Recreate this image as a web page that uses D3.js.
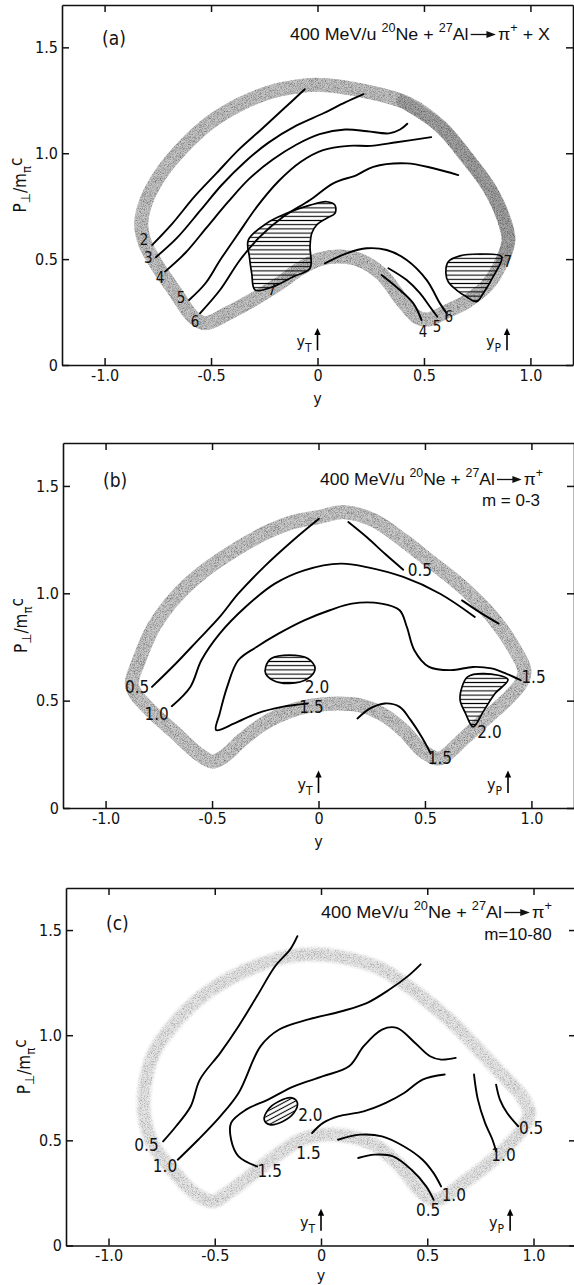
<!DOCTYPE html>
<html>
<head>
<meta charset="utf-8">
<script src="https://cdn.jsdelivr.net/npm/d3@7"></script>
<style>
  html, body { margin: 0; padding: 0; background: #fff; }
  svg { display: block; }
  .tick text { font-family: "DejaVu Sans", sans-serif; font-stretch: condensed; font-size: 16px; fill: #111; }
  .lbl { font-family: "DejaVu Sans", sans-serif; font-stretch: condensed; font-size: 16px; fill: #111; }
  .ttl { font-family: "Liberation Sans", "DejaVu Sans", sans-serif; font-size: 17px; fill: #111; }
</style>
</head>
<body>
<svg id="fig" width="574" height="1285"></svg>
<script>
// ---------------- axes ----------------
const xDomain = [-1.2, 1.2];
const yDomain = [0, 1.7];
const xTickValues = [-1.0, -0.5, 0, 0.5, 1.0];
const xTickLabels = ["-1.0", "-0.5", "0", "0.5", "1.0"];
const yTickValues = [0, 0.5, 1.0, 1.5];
const yTickLabels = ["0", "0.5", "1.0", "1.5"];
const rapidityMarks = [["T", 0.0], ["P", 0.89]];

// ---------------- titles ----------------
const titleA = ["400 MeV/u ", "^20", "Ne + ", "^27", "Al", "->", "π", "^+", " + X"];
const titleB = ["400 MeV/u ", "^20", "Ne + ", "^27", "Al", "->", "π", "^+"];
const titleC = ["400 MeV/u ", "^20", "Ne + ", "^27", "Al", "->", "π", "^+"];
const subtitleB = "m = 0-3";
const subtitleC = "m=10-80";

// ---------------- panel (a): p + X ----------------
const bandA = [
  [-0.009, 1.323], [0.233, 1.291], [0.422, 1.236], [0.578, 1.126], [0.698, 0.984],
  [0.802, 0.843], [0.871, 0.701], [0.897, 0.591], [0.870, 0.500], [0.800, 0.380],
  [0.700, 0.300], [0.600, 0.250], [0.520, 0.215], [0.470, 0.225], [0.400, 0.300],
  [0.300, 0.430], [0.200, 0.495], [0.106, 0.512], [0.012, 0.500], [-0.090, 0.450],
  [-0.176, 0.387], [-0.300, 0.310], [-0.420, 0.245], [-0.526, 0.197], [-0.586, 0.228],
  [-0.664, 0.339], [-0.750, 0.465], [-0.810, 0.575], [-0.828, 0.669], [-0.802, 0.780],
  [-0.733, 0.906], [-0.629, 1.031], [-0.509, 1.142], [-0.371, 1.228], [-0.216, 1.291],
  [-0.112, 1.312]
];
const bandDarkA = [
  [0.40, 1.245], [0.578, 1.126], [0.698, 0.984], [0.802, 0.843], [0.871, 0.701],
  [0.897, 0.591], [0.870, 0.500]
];
const linesA = [
  [[-0.776, 0.567], [-0.681, 0.669], [-0.578, 0.795], [-0.474, 0.906], [-0.371, 1.016], [-0.267, 1.110], [-0.164, 1.205], [-0.060, 1.302]],
  [[-0.759, 0.509], [-0.660, 0.600], [-0.550, 0.730], [-0.450, 0.850], [-0.340, 0.960], [-0.230, 1.050], [-0.100, 1.130], [0.030, 1.190], [0.130, 1.240], [0.216, 1.279]],
  [[-0.716, 0.441], [-0.620, 0.530], [-0.520, 0.650], [-0.420, 0.770], [-0.320, 0.880], [-0.210, 0.970], [-0.100, 1.040], [0.010, 1.090], [0.130, 1.112], [0.233, 1.104], [0.336, 1.094], [0.388, 1.112], [0.422, 1.139]],
  [[-0.603, 0.307], [-0.526, 0.386], [-0.457, 0.496], [-0.371, 0.622], [-0.284, 0.748], [-0.181, 0.870], [-0.078, 0.960], [0.026, 1.015], [0.147, 1.035], [0.250, 1.035], [0.371, 1.052], [0.534, 1.076]],
  [[-0.552, 0.244], [-0.458, 0.354], [-0.364, 0.496], [-0.270, 0.606], [-0.161, 0.700], [-0.035, 0.779], [0.074, 0.858], [0.184, 0.897], [0.262, 0.936], [0.419, 0.952], [0.544, 0.929], [0.661, 0.897]],
  [[0.035, 0.480], [0.137, 0.527], [0.231, 0.551], [0.325, 0.543], [0.419, 0.496], [0.513, 0.401], [0.575, 0.291], [0.607, 0.244]],
  [[0.333, 0.457], [0.419, 0.401], [0.481, 0.339], [0.528, 0.275], [0.563, 0.228]],
  [[0.301, 0.425], [0.387, 0.354], [0.450, 0.291], [0.489, 0.212]]
];
const hatchA = [
  [[-0.293, 0.354], [-0.309, 0.433], [-0.320, 0.511], [-0.325, 0.590], [-0.239, 0.669], [-0.145, 0.716],
   [-0.035, 0.755], [0.043, 0.771], [0.082, 0.755], [0.082, 0.716], [0.043, 0.693], [-0.004, 0.661],
   [-0.027, 0.622], [-0.035, 0.559], [-0.035, 0.457], [-0.114, 0.417], [-0.208, 0.370]],
  [[0.603, 0.433], [0.614, 0.488], [0.669, 0.515], [0.763, 0.524], [0.865, 0.511], [0.825, 0.417],
   [0.778, 0.338], [0.747, 0.299], [0.700, 0.322], [0.653, 0.354], [0.614, 0.393]]
];
const labelsA = [
  ["2", -0.815, 0.588], ["3", -0.795, 0.505], ["4", -0.739, 0.411], ["5", -0.641, 0.316], ["6", -0.575, 0.203],
  ["7", -0.214, 0.354], ["7", 0.894, 0.486], ["4", 0.496, 0.156], ["5", 0.561, 0.179], ["6", 0.617, 0.227]
];

// ---------------- panel (b): m = 0-3 ----------------
const bandB = [
  [0.000, 1.355], [0.122, 1.378], [0.260, 1.340], [0.398, 1.247], [0.519, 1.153], [0.640, 1.060],
  [0.743, 0.967], [0.829, 0.874], [0.915, 0.750], [0.967, 0.642], [0.950, 0.580], [0.881, 0.502],
  [0.812, 0.440], [0.743, 0.378], [0.674, 0.316], [0.588, 0.239], [0.553, 0.231], [0.484, 0.270],
  [0.398, 0.363], [0.295, 0.440], [0.191, 0.479], [0.088, 0.487], [-0.016, 0.479], [-0.119, 0.456],
  [-0.257, 0.394], [-0.360, 0.316], [-0.446, 0.239], [-0.498, 0.216], [-0.567, 0.254], [-0.670, 0.347],
  [-0.774, 0.440], [-0.860, 0.533], [-0.877, 0.580], [-0.843, 0.688], [-0.774, 0.843], [-0.670, 0.983],
  [-0.533, 1.107], [-0.395, 1.200], [-0.257, 1.278], [-0.119, 1.332]
];
const linesB = [
  [[-0.782, 0.564], [-0.670, 0.673], [-0.567, 0.781], [-0.464, 0.890], [-0.377, 0.998], [-0.257, 1.122], [-0.119, 1.247], [0.002, 1.347]],
  [[0.140, 1.332], [0.226, 1.262], [0.312, 1.184], [0.398, 1.110]],
  [[-0.689, 0.474], [-0.602, 0.564], [-0.550, 0.688], [-0.464, 0.812], [-0.343, 0.936], [-0.205, 1.045], [-0.067, 1.107], [0.105, 1.138], [0.226, 1.122], [0.398, 1.076], [0.571, 0.998], [0.734, 0.890]],
  [[0.674, 0.967], [0.760, 0.910], [0.846, 0.859]],
  [[-0.050, 0.487], [-0.171, 0.471], [-0.291, 0.440], [-0.395, 0.394], [-0.481, 0.363], [-0.464, 0.440], [-0.429, 0.564], [-0.377, 0.688], [-0.291, 0.750], [-0.188, 0.812], [-0.067, 0.874], [0.053, 0.921], [0.157, 0.952], [0.295, 0.952], [0.381, 0.921], [0.415, 0.843], [0.450, 0.735], [0.519, 0.657], [0.622, 0.642], [0.726, 0.657], [0.812, 0.650], [0.881, 0.626], [0.950, 0.595]],
  [[0.183, 0.417], [0.243, 0.464], [0.312, 0.487], [0.381, 0.471], [0.433, 0.409], [0.484, 0.332], [0.527, 0.254]]
];
const hatchB = [
  [[-0.248, 0.657], [-0.222, 0.696], [-0.136, 0.712], [-0.050, 0.696], [-0.016, 0.650], [-0.050, 0.603], [-0.136, 0.580], [-0.214, 0.595], [-0.248, 0.626]],
  [[0.674, 0.564], [0.700, 0.611], [0.778, 0.626], [0.890, 0.598], [0.829, 0.533], [0.778, 0.456], [0.726, 0.378], [0.691, 0.440], [0.665, 0.502]]
];
const labelsB = [
  ["0.5", -0.852, 0.564], ["1.0", -0.760, 0.440], ["0.5", 0.476, 1.110], ["2.0", -0.007, 0.564],
  ["1.5", -0.033, 0.471], ["1.5", 1.010, 0.611], ["2.0", 0.803, 0.355], ["1.5", 0.570, 0.231]
];

// ---------------- panel (c): m = 10-80 ----------------
const bandC = [
  [-0.007, 1.384], [0.149, 1.360], [0.287, 1.313], [0.409, 1.233], [0.530, 1.138], [0.651, 1.027],
  [0.755, 0.916], [0.859, 0.805], [0.945, 0.710], [0.980, 0.630], [0.945, 0.551], [0.876, 0.471],
  [0.772, 0.376], [0.668, 0.297], [0.582, 0.233], [0.530, 0.217], [0.461, 0.265], [0.374, 0.376],
  [0.253, 0.479], [0.132, 0.519], [0.010, 0.527], [-0.094, 0.503], [-0.215, 0.424], [-0.336, 0.329],
  [-0.440, 0.249], [-0.509, 0.210], [-0.596, 0.249], [-0.700, 0.360], [-0.786, 0.471], [-0.829, 0.598],
  [-0.829, 0.757], [-0.786, 0.916], [-0.700, 1.043], [-0.578, 1.170], [-0.440, 1.265], [-0.284, 1.337],
  [-0.145, 1.376]
];
const linesC = [
  [[-0.743, 0.495], [-0.682, 0.567], [-0.613, 0.662], [-0.570, 0.789], [-0.474, 0.916], [-0.388, 1.043], [-0.301, 1.186], [-0.215, 1.329], [-0.145, 1.408], [-0.111, 1.471]],
  [[-0.674, 0.408], [-0.578, 0.503], [-0.474, 0.614], [-0.388, 0.725], [-0.284, 0.948], [-0.197, 1.027], [-0.059, 1.075], [0.097, 1.114], [0.218, 1.154], [0.322, 1.217], [0.409, 1.281], [0.469, 1.337]],
  [[-0.301, 0.376], [-0.388, 0.424], [-0.423, 0.503], [-0.423, 0.583], [-0.353, 0.646], [-0.249, 0.694], [-0.128, 0.757], [0.010, 0.805], [0.132, 0.852], [0.201, 0.948], [0.287, 1.027], [0.357, 1.035], [0.443, 0.963], [0.513, 0.900], [0.565, 0.884], [0.634, 0.892]],
  [[-0.042, 0.535], [0.010, 0.583], [0.080, 0.614], [0.201, 0.638], [0.305, 0.678], [0.391, 0.725], [0.478, 0.789], [0.582, 0.813]],
  [[0.080, 0.503], [0.184, 0.527], [0.287, 0.519], [0.391, 0.471], [0.478, 0.408], [0.530, 0.344], [0.565, 0.281]],
  [[0.175, 0.416], [0.253, 0.432], [0.339, 0.424], [0.426, 0.360], [0.495, 0.281], [0.530, 0.217]],
  [[0.720, 0.813], [0.738, 0.695], [0.772, 0.583], [0.807, 0.503], [0.824, 0.448]],
  [[0.824, 0.765], [0.842, 0.694], [0.876, 0.630], [0.928, 0.567]]
];
const hatchC = [
  [[-0.267, 0.598], [-0.249, 0.646], [-0.197, 0.686], [-0.137, 0.702], [-0.111, 0.678], [-0.128, 0.630], [-0.180, 0.590], [-0.241, 0.575]]
];
const labelsC = [
  ["0.5", -0.821, 0.479], ["1.0", -0.734, 0.376], ["1.5", -0.241, 0.352], ["1.5", -0.059, 0.440],
  ["2.0", -0.050, 0.622], ["1.0", 0.625, 0.241], ["0.5", 0.504, 0.170], ["1.0", 0.859, 0.432], ["0.5", 0.989, 0.559]
];

// ---------------- drawing ----------------
const svg = d3.select("#fig");
const defs = svg.append("defs");

// hatching for the shaded maxima
function hatchPattern(id, angle) {
  const p = defs.append("pattern").attr("id", id)
    .attr("patternUnits", "userSpaceOnUse").attr("width", 8).attr("height", 4.2);
  if (angle) p.attr("patternTransform", `rotate(${angle})`);
  p.append("path").attr("d", "M-1,2.1H9").attr("stroke", "#000").attr("stroke-width", 1.1);
}
hatchPattern("hatchH", 0);
hatchPattern("hatchS", -28);

// stippled grey band of the acceptance boundary
function grainFilter(id, blur, gain, offset) {
  const f = defs.append("filter").attr("id", id)
    .attr("x", "-5%").attr("y", "-5%").attr("width", "110%").attr("height", "110%");
  f.append("feGaussianBlur").attr("in", "SourceGraphic").attr("stdDeviation", blur).attr("result", "soft");
  f.append("feTurbulence").attr("type", "fractalNoise").attr("baseFrequency", 1.3)
    .attr("numOctaves", 2).attr("seed", 11).attr("result", "noise");
  f.append("feColorMatrix").attr("in", "noise").attr("type", "matrix")
    .attr("values", `0 0 0 0 0  0 0 0 0 0  0 0 0 0 0  ${gain} 0 0 0 ${offset}`)
    .attr("result", "specks");
  f.append("feComposite").attr("in", "specks").attr("in2", "soft").attr("operator", "in").attr("result", "speckIn");
  const m = f.append("feMerge");
  m.append("feMergeNode").attr("in", "soft");
  m.append("feMergeNode").attr("in", "speckIn");
}
grainFilter("grainA", 0.7, 1.5, -0.55);
grainFilter("grainC", 1.5, 1.3, -0.55);

function drawTitle(g, parts, xEnd, baseline, width) {
  const t = g.append("g");
  let x = 0;
  parts.forEach(s => {
    if (s === "->") {
      const len = 26;
      t.append("line").attr("x1", x + 2).attr("x2", x + len - 6).attr("y1", -5.5).attr("y2", -5.5)
        .attr("stroke", "#111").attr("stroke-width", 1.3);
      t.append("path").attr("d", `M${x + len - 9},-9L${x + len},-5.5L${x + len - 9},-2Z`).attr("fill", "#111");
      x += len + 2;
      return;
    }
    const sup = s.startsWith("^");
    const txt = t.append("text").attr("class", "ttl").attr("x", x).attr("y", sup ? -8 : 0)
      .style("font-size", sup ? "12px" : "17px").style("white-space", "pre").text(sup ? s.slice(1) : s);
    x += txt.node().getComputedTextLength();
  });
  const sx = width / x;
  t.attr("transform", `translate(${xEnd - width},${baseline}) scale(${sx},1)`);
}

function drawPanel(cfg) {
  const x = d3.scaleLinear().domain(xDomain).range([cfg.left, cfg.right]);
  const y = d3.scaleLinear().domain(yDomain).range([cfg.bottom, cfg.top]);
  const g = svg.append("g");

  // acceptance band
  const closed = d3.line().x(d => x(d[0])).y(d => y(d[1])).curve(d3.curveCatmullRomClosed.alpha(0.5));
  const open = d3.line().x(d => x(d[0])).y(d => y(d[1])).curve(d3.curveCatmullRom.alpha(0.5));
  const bandG = g.append("g").attr("filter", `url(#${cfg.grain})`);
  bandG.append("path").attr("d", closed(cfg.band)).attr("fill", "none")
    .attr("stroke", cfg.bandColor).attr("stroke-width", cfg.bandWidth).attr("stroke-linejoin", "round");
  if (cfg.bandDark) {
    bandG.append("path").attr("d", open(cfg.bandDark)).attr("fill", "none")
      .attr("stroke", "#a4a4a4").attr("stroke-width", cfg.bandWidth - 1).attr("stroke-linecap", "round");
  }

  // shaded maxima
  cfg.hatch.forEach(h => {
    g.append("path").attr("d", closed(h)).attr("fill", `url(#${cfg.hatchId})`)
      .attr("stroke", "#000").attr("stroke-width", 1.7);
  });

  // contour lines
  cfg.lines.forEach(l => {
    g.append("path").attr("d", open(l)).attr("fill", "none")
      .attr("stroke", "#000").attr("stroke-width", 1.9).attr("stroke-linecap", "round");
  });

  // contour labels
  cfg.labels.forEach(([t, vx, vy]) => {
    g.append("text").attr("class", "lbl").attr("x", x(vx)).attr("y", y(vy))
      .style("font-size", cfg.labelSize)
      .attr("text-anchor", "middle").attr("dominant-baseline", "central").text(t);
  });

  // target and projectile rapidity arrows
  rapidityMarks.forEach(([sub, r]) => {
    const px = x(r), y0 = y(0.07), y1 = y(0.175);
    g.append("line").attr("x1", px).attr("x2", px).attr("y1", y0).attr("y2", y1 + 5)
      .attr("stroke", "#000").attr("stroke-width", 1.6);
    g.append("path").attr("d", `M${px - 3.2},${y1 + 7}L${px},${y1}L${px + 3.2},${y1 + 7}Z`).attr("fill", "#000");
    const tx = g.append("text").attr("class", "lbl").attr("x", px - 6).attr("y", y(0.085))
      .attr("text-anchor", "end");
    tx.append("tspan").text("y");
    tx.append("tspan").attr("dy", 5).style("font-size", "12px").text(sub);
  });

  // axes with inward ticks
  const ax = g.append("g");
  const bottom = d3.axisBottom(x).tickValues(xTickValues).tickSizeInner(-7).tickSizeOuter(0)
    .tickPadding(cfg.tickPad).tickFormat((d, i) => xTickLabels[i]);
  const top = d3.axisTop(x).tickValues(xTickValues).tickSizeInner(-7).tickSizeOuter(0).tickFormat("");
  const left = d3.axisLeft(y).tickValues(yTickValues).tickSizeInner(-7).tickSizeOuter(0)
    .tickPadding(4).tickFormat((d, i) => yTickLabels[i]);
  const right = d3.axisRight(y).tickValues(yTickValues).tickSizeInner(-7).tickSizeOuter(0).tickFormat("");
  ax.append("g").attr("transform", `translate(0,${cfg.bottom})`).call(bottom);
  ax.append("g").attr("transform", `translate(0,${cfg.top})`).call(top);
  ax.append("g").attr("transform", `translate(${cfg.left},0)`).call(left);
  ax.append("g").attr("transform", `translate(${cfg.right},0)`).call(right);
  ax.selectAll(".domain").attr("stroke", "#111").attr("stroke-width", 1.6);
  ax.selectAll(".tick line").attr("stroke", "#111").attr("stroke-width", 1.5);

  // axis titles
  g.append("text").attr("class", "lbl").style("font-size", "16px")
    .attr("x", x(0)).attr("y", cfg.bottom + cfg.xTitleOff).attr("text-anchor", "middle").text("y");
  const yl = g.append("text").attr("class", "lbl").style("font-size", "17px")
    .attr("transform", `translate(${cfg.left - 36},${y(0.85)}) rotate(-90)`).attr("text-anchor", "middle");
  yl.append("tspan").text("P");
  yl.append("tspan").attr("dy", 4).style("font-size", "13px").text("⊥");
  yl.append("tspan").attr("dy", -4).text("/m");
  yl.append("tspan").attr("dy", 5).style("font-size", "13px").text("π");
  yl.append("tspan").attr("dy", -9).text("c");

  // panel tag and reaction
  g.append("text").attr("class", "lbl").style("font-size", "19px")
    .attr("x", cfg.left + 40).attr("y", cfg.tagY).text(cfg.tag);
  drawTitle(g, cfg.title, cfg.titleEnd, cfg.titleY, cfg.titleWidth);
  if (cfg.subtitle) {
    g.append("text").attr("class", "ttl").attr("x", cfg.subX).attr("y", cfg.subY)
      .attr("text-anchor", "middle").text(cfg.subtitle);
  }
}

drawPanel({
  left: 62, right: 573, top: 5, bottom: 365, tickPad: 5, xTitleOff: 39, labelSize: "15px",
  band: bandA, bandDark: bandDarkA, bandColor: "#c6c6c6", bandWidth: 14, grain: "grainA",
  lines: linesA, hatch: hatchA, hatchId: "hatchH", labels: labelsA,
  tag: "(a)", tagY: 45, title: titleA, titleEnd: 550, titleY: 40, titleWidth: 260
});
drawPanel({
  left: 63, right: 574, top: 443, bottom: 808, tickPad: 5, xTitleOff: 39, labelSize: "17px",
  band: bandB, bandColor: "#cbcbcb", bandWidth: 14, grain: "grainA",
  lines: linesB, hatch: hatchB, hatchId: "hatchH", labels: labelsB,
  tag: "(b)", tagY: 487, title: titleB, titleEnd: 543, titleY: 485, titleWidth: 223,
  subtitle: subtitleB, subX: 511, subY: 506
});
drawPanel({
  left: 66, right: 576, top: 888, bottom: 1245.5, tickPad: 4, xTitleOff: 35.5, labelSize: "17px",
  band: bandC, bandColor: "#e4e4e4", bandWidth: 13, grain: "grainC",
  lines: linesC, hatch: hatchC, hatchId: "hatchS", labels: labelsC,
  tag: "(c)", tagY: 930, title: titleC, titleEnd: 552, titleY: 918, titleWidth: 231,
  subtitle: subtitleC, subX: 518, subY: 940
});
</script>
</body>
</html>
